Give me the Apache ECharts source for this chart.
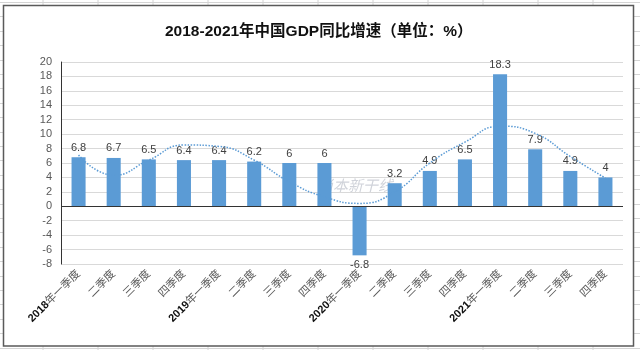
<!DOCTYPE html>
<html>
<head>
<meta charset="utf-8">
<script src="https://cdn.jsdelivr.net/npm/echarts@6/dist/echarts.min.js"></script>
<style>
  html, body { margin: 0; padding: 0; background: #fff; }
  #c { width: 640px; height: 350px; }
</style>
</head>
<body>
<div id="c"></div>
<script>
// Quarterly year-on-year GDP growth of China, 2018–2021 (%)
const quarters = [
  '2018年一季度', '二季度', '三季度', '四季度',
  '2019年一季度', '二季度', '三季度', '四季度',
  '2020年一季度', '二季度', '三季度', '四季度',
  '2021年一季度', '二季度', '三季度', '四季度'
];
const growth = [6.8, 6.7, 6.5, 6.4, 6.4, 6.2, 6, 6, -6.8, 3.2, 4.9, 6.5, 18.3, 7.9, 4.9, 4];
// Trend curve, read at each quarter
const trend = [7.1, 4.3, 6.4, 8.5, 8.3, 6.4, 3.4, 1.3, 0.4, 2.0, 6.0, 8.9, 11.1, 10.1, 6.9, 3.9];
const yMin = -8, yMax = 20, yStep = 2;
const titleText = '2018-2021年中国GDP同比增速（单位：%）';

const FONT = '"Liberation Sans", "Noto Sans CJK SC", sans-serif';

// Worksheet cell lines behind the chart frame
const sheet = [];
for (let x = 43; x < 640; x += 55) {
  sheet.push({ type: 'line', z: -20, shape: { x1: x, y1: 0, x2: x, y2: 350 },
    style: { stroke: '#d4d4d4', lineWidth: 1 } });
}
for (let y = 2; y < 350; y += 14.4) {
  sheet.push({ type: 'line', z: -20, shape: { x1: 0, y1: Math.round(y) + 0.5, x2: 640, y2: Math.round(y) + 0.5 },
    style: { stroke: '#d4d4d4', lineWidth: 1 } });
}
sheet.push({ type: 'rect', z: -10, shape: { x: 3.5, y: 5.5, width: 630, height: 340.5 },
  style: { fill: '#ffffff', stroke: '#5a5a5a', lineWidth: 1.5 } });
sheet.push({ type: 'text', z: -5, left: 318, top: 178,
  style: { text: '尚本新干线', fill: 'rgba(120,130,150,0.35)', font: 'italic 15px "Noto Sans CJK SC"' } });

const chart = echarts.init(document.getElementById('c'), null, { renderer: 'canvas' });
chart.setOption({
  animation: false,
  backgroundColor: '#ffffff',
  graphic: sheet,
  title: {
    text: titleText,
    left: 160,
    top: 19,
    textStyle: { fontFamily: FONT, fontSize: 15.5, fontWeight: 'bold', color: '#111' }
  },
  grid: { left: 61, right: 17, top: 62, bottom: 86 },
  xAxis: {
    type: 'category',
    data: quarters,
    axisLine: { onZero: false, show: false },
    axisTick: { show: false },
    axisLabel: {
      interval: 0,
      rotate: 45,
      margin: 8,
      fontFamily: FONT,
      fontSize: 11,
      color: '#595959',
      formatter: function (v) {
        const m = v.match(/^(\d{4})(.*)$/);
        return m ? '{y|' + m[1] + '}{q|' + m[2] + '}' : '{q|' + v + '}';
      },
      rich: {
        y: { fontFamily: FONT, fontSize: 11, fontWeight: 'bold', color: '#111' },
        q: { fontFamily: FONT, fontSize: 11, color: '#595959' }
      }
    }
  },
  yAxis: {
    type: 'value',
    min: yMin,
    max: yMax,
    interval: yStep,
    axisLine: { show: true, lineStyle: { color: '#333', width: 1 } },
    axisTick: { show: false },
    axisLabel: { fontFamily: FONT, fontSize: 11, color: '#595959', margin: 9 },
    splitLine: { lineStyle: { color: '#d9d9d9', width: 1 } }
  },
  series: [
    {
      type: 'bar',
      barWidth: '40%',
      data: growth.map(v => ({ value: v, label: { position: v < 0 ? 'bottom' : 'top' } })),
      itemStyle: { color: '#5b9bd5' },
      label: {
        show: true,
        distance: 4,
        fontFamily: FONT,
        fontSize: 11,
        color: '#404040'
      },
      markLine: {
        silent: true,
        symbol: 'none',
        label: { show: false },
        lineStyle: { color: '#333', width: 1, type: 'solid' },
        data: [{ yAxis: 0 }]
      },
      z: 2
    },
    {
      type: 'line',
      data: trend,
      smooth: 0.5,
      showSymbol: false,
      lineStyle: { color: '#5b9bd5', width: 1.5, type: 'dotted' },
      z: 3
    }
  ]
});
</script>
</body>
</html>
